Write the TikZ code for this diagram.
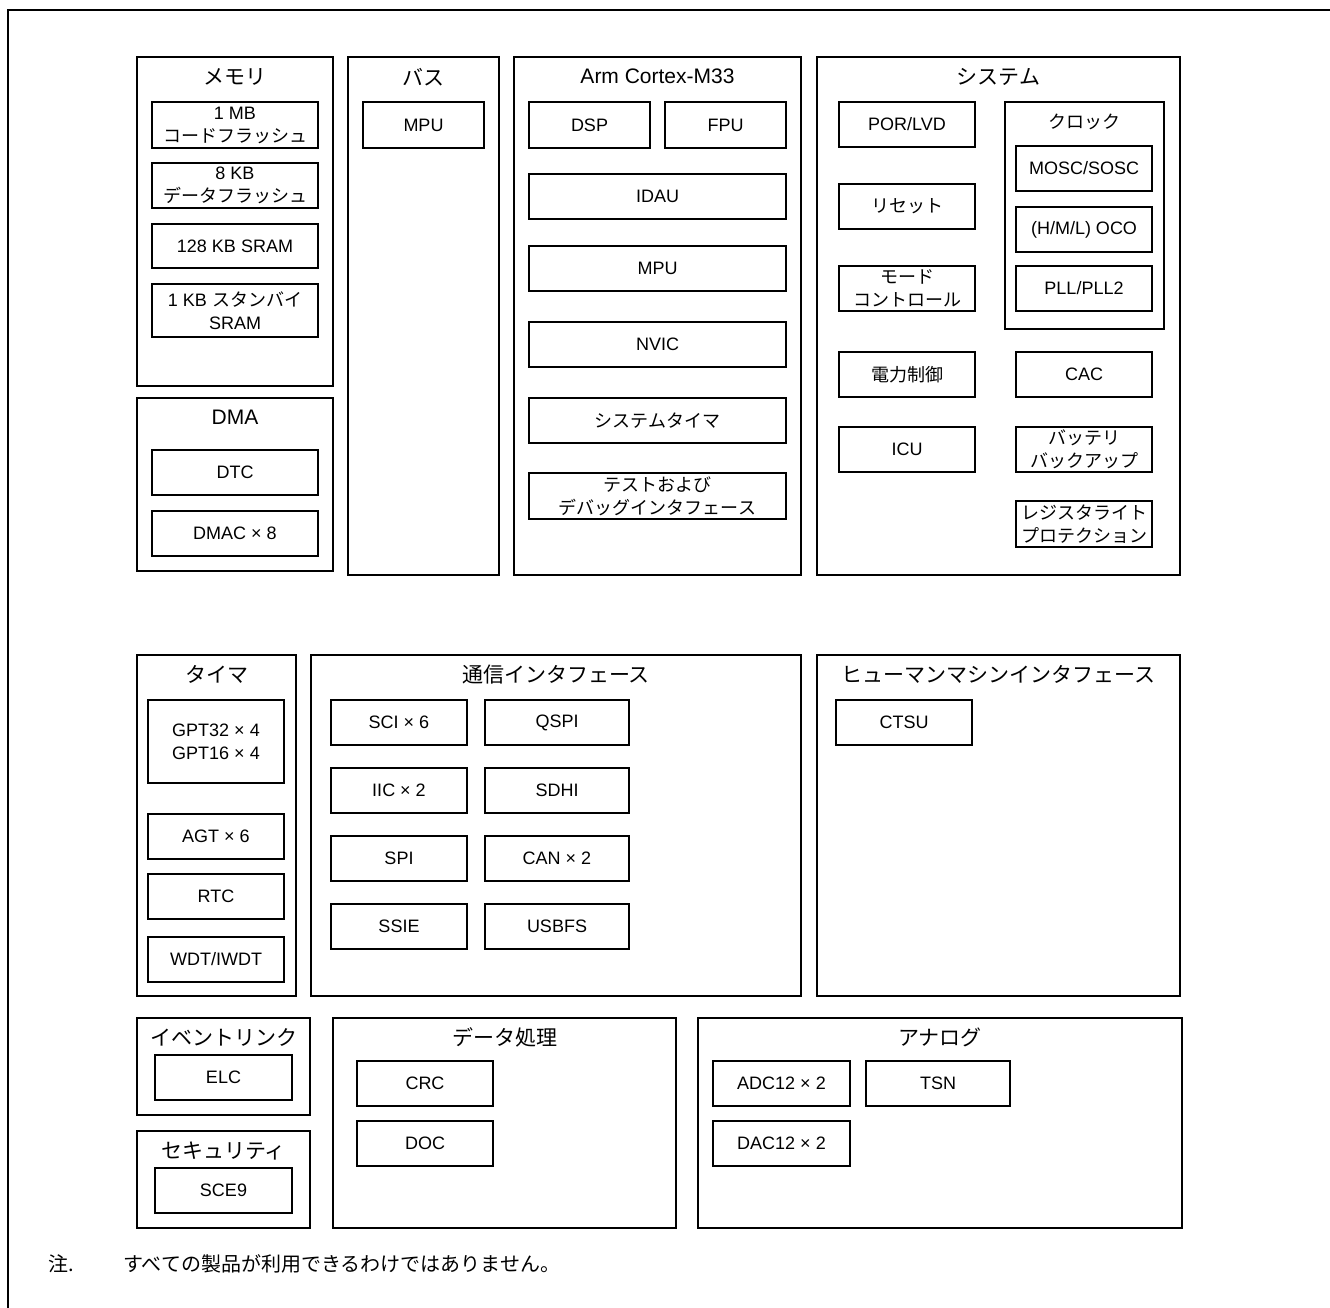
\documentclass[tikz,border=0pt]{standalone}
\usepackage{fontspec}
\setmainfont{Liberation Sans}
\newfontfamily\jpfont{Noto Sans CJK JP}
\newcommand{\ja}[1]{{\jpfont #1}}
\usetikzlibrary{positioning,calc}

\tikzset{
    unitbox/.style={draw, line width=1.6pt, inner sep=0pt, align=center, font=\fontsize{18}{23}\selectfont},
    grpbox/.style={draw, line width=1.6pt, inner sep=0pt},
    grptitle/.style={inner sep=0pt, font=\fontsize{21}{24}\selectfont},
}

% block from its corners: name, left, top, right, bottom, text
\newcommand{\blk}[6]{%
    \node[unitbox, minimum width={((#4)-(#2))*1pt}, minimum height={((#5)-(#3))*1pt}]
        (#1) at ({((#2)+(#4))/2},{((#3)+(#5))/2}) {#6};}
% group with its title
\newcommand{\grp}[6]{%
    \node[grpbox, minimum width={((#4)-(#2))*1pt}, minimum height={((#5)-(#3))*1pt}]
        (#1) at ({((#2)+(#4))/2},{((#3)+(#5))/2}) {};
    \node[grptitle] (#1-t) at ([yshift=-20.5pt]#1.north) {#6};}

\begin{document}
\begin{tikzpicture}[x=1pt, y=-1pt]
    \useasboundingbox (0,0) rectangle (1330,1308);

    % Frame
    \draw[line width=1.6pt] (8,1308) -- (8,10) -- (1330,10);

    % Memory
    \grp{mem}{137}{57}{333}{386}{\ja{メモリ}}
    \blk{code}{152}{102}{318}{148}{1 MB\\\ja{コードフラッシュ}}
    \blk{data}{152}{163}{318}{208}{8 KB\\\ja{データフラッシュ}}
    \blk{sram}{152}{224}{318}{268}{128 KB SRAM}
    \blk{stby}{152}{284}{318}{337}{1 KB \ja{スタンバイ}\\SRAM}

    % DMA
    \grp{dma}{137}{398}{333}{571}{DMA}
    \blk{dtc}{152}{450}{318}{495}{DTC}
    \blk{dmac}{152}{511}{318}{556}{DMAC × 8}

    % Bus
    \grp{bus}{348}{57}{499}{575}{\ja{バス}}
    \blk{busmpu}{363}{102}{484}{148}{MPU}

    % CPU
    \grp{cpu}{514}{57}{801}{575}{Arm Cortex-M33}
    \blk{dsp}{529}{102}{650}{148}{DSP}
    \blk{fpu}{665}{102}{786}{148}{FPU}
    \blk{idau}{529}{174}{786}{219}{IDAU}
    \blk{cpumpu}{529}{246}{786}{291}{MPU}
    \blk{nvic}{529}{322}{786}{367}{NVIC}
    \blk{systick}{529}{398}{786}{443}{\ja{システムタイマ}}
    \blk{dbg}{529}{473}{786}{519}{\ja{テストおよび}\\\ja{デバッグインタフェース}}

    % System
    \grp{sys}{817}{57}{1180}{575}{\ja{システム}}
    \blk{por}{839}{102}{975}{147}{POR/LVD}
    \blk{rst}{839}{184}{975}{229}{\ja{リセット}}
    \blk{mode}{839}{266}{975}{311}{\ja{モード}\\\ja{コントロール}}
    \blk{pwr}{839}{352}{975}{397}{\ja{電力制御}}
    \blk{icu}{839}{427}{975}{472}{ICU}
    \grp{clk}{1005}{102}{1164}{329}{\fontsize{18}{21}\selectfont\ja{クロック}}
    \blk{mosc}{1016}{146}{1152}{191}{MOSC/SOSC}
    \blk{oco}{1016}{207}{1152}{252}{(H/M/L) OCO}
    \blk{pll}{1016}{266}{1152}{311}{PLL/PLL2}
    \blk{cac}{1016}{352}{1152}{397}{CAC}
    \blk{vbat}{1016}{427}{1152}{472}{\ja{バッテリ}\\\ja{バックアップ}}
    \blk{wprot}{1016}{501}{1152}{547}{\ja{レジスタライト}\\\ja{プロテクション}}

    % Timers
    \grp{tmr}{137}{655}{296}{996}{\ja{タイマ}}
    \blk{gpt}{148}{700}{284}{783}{GPT32 × 4\\GPT16 × 4}
    \blk{agt}{148}{814}{284}{859}{AGT × 6}
    \blk{rtc}{148}{874}{284}{919}{RTC}
    \blk{wdt}{148}{937}{284}{982}{WDT/IWDT}

    % Communication
    \grp{com}{311}{655}{801}{996}{\ja{通信インタフェース}}
    \foreach \a/\b [count=\r from 0] in {SCI × 6/QSPI, IIC × 2/SDHI, SPI/CAN × 2, SSIE/USBFS}{
        \blk{comL\r}{331}{700+68*\r}{467}{745+68*\r}{\a}
        \blk{comR\r}{485}{700+68*\r}{629}{745+68*\r}{\b}
    }

    % HMI
    \grp{hmi}{817}{655}{1180}{996}{\ja{ヒューマンマシンインタフェース}}
    \blk{ctsu}{836}{700}{972}{745}{CTSU}

    % Event link and security
    \grp{evt}{137}{1018}{310}{1115}{\ja{イベントリンク}}
    \blk{elc}{155}{1055}{292}{1100}{ELC}
    \grp{sec}{137}{1131}{310}{1228}{\ja{セキュリティ}}
    \blk{sce}{155}{1168}{292}{1213}{SCE9}

    % Data processing
    \grp{dproc}{333}{1018}{676}{1228}{\ja{データ処理}}
    \blk{crc}{357}{1061}{493}{1106}{CRC}
    \blk{doc}{357}{1121}{493}{1166}{DOC}

    % Analog
    \grp{ana}{698}{1018}{1182}{1228}{\ja{アナログ}}
    \blk{adc}{713}{1061}{850}{1106}{ADC12 × 2}
    \blk{tsn}{866}{1061}{1010}{1106}{TSN}
    \blk{dac}{713}{1121}{850}{1166}{DAC12 × 2}

    % Note
    \node[anchor=west, inner sep=0pt, font=\fontsize{20}{24}\selectfont] (notemark) at (48,1264) {\ja{注.}};
    \node[anchor=west, inner sep=0pt, font=\fontsize{20}{24}\selectfont] (notetext) at (123,1264) {\ja{すべての製品が利用できるわけではありません。}};
\end{tikzpicture}
\end{document}
